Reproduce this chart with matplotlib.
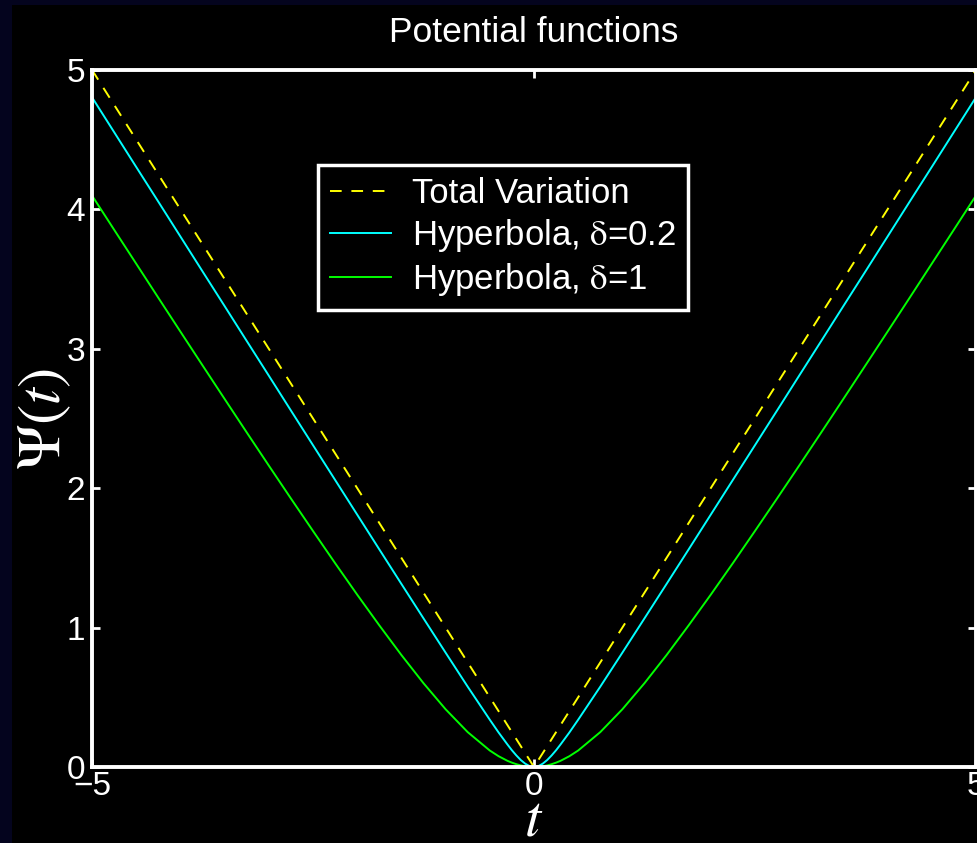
import matplotlib
matplotlib.use('Agg')
import matplotlib.pyplot as plt
from matplotlib.patches import Rectangle

# values (right half; the curves are symmetric about t=0)
t_pos = [0.05, 0.1, 0.15, 0.2, 0.25, 0.3, 0.4, 0.5, 0.75, 1, 1.25, 1.5, 1.75, 2,
         2.25, 2.5, 2.75, 3, 3.25, 3.5, 3.75, 4, 4.25, 4.5, 4.75, 5]
tv_pos = [0.05, 0.1, 0.15, 0.2, 0.25, 0.3, 0.4, 0.5, 0.75, 1, 1.25, 1.5, 1.75, 2,
          2.25, 2.5, 2.75, 3, 3.25, 3.5, 3.75, 4, 4.25, 4.5, 4.75, 5]
h02_pos = [0.006, 0.024, 0.050, 0.083, 0.120, 0.161, 0.247, 0.339, 0.576, 0.820,
           1.066, 1.313, 1.561, 1.810, 2.059, 2.308, 2.557, 2.807, 3.056, 3.306,
           3.555, 3.805, 4.055, 4.304, 4.554, 4.804]
h1_pos = [0.001, 0.005, 0.011, 0.020, 0.031, 0.044, 0.077, 0.118, 0.250, 0.414,
          0.601, 0.803, 1.016, 1.236, 1.462, 1.693, 1.926, 2.162, 2.400, 2.640,
          2.881, 3.123, 3.366, 3.610, 3.854, 4.099]

t = [-v for v in t_pos[::-1]] + [0] + t_pos
tv = tv_pos[::-1] + [0] + tv_pos
hyp02 = h02_pos[::-1] + [0] + h02_pos
hyp1 = h1_pos[::-1] + [0] + h1_pos

labels = ['Total Variation', r'Hyperbola, $\mathrm{\delta}$=0.2', r'Hyperbola, $\mathrm{\delta}$=1']
xticks = [-5, 0, 5]
yticks = [0, 1, 2, 3, 4, 5]

plt.rcParams['font.family'] = ['Liberation Sans', 'DejaVu Sans']
plt.rcParams['mathtext.fontset'] = 'stix'

fig = plt.figure(figsize=(9.78, 8.43), dpi=100, facecolor='#04041e')
# black plotting area, the navy only shows as a thin strip top and left
fig.patches.append(Rectangle((12 / 978, 0), 1, 1 - 5 / 843, transform=fig.transFigure,
                             facecolor='black', edgecolor='none', zorder=-10))

ax = fig.add_axes([0.094, 0.0902, 0.904, 0.827])
ax.set_facecolor('black')

ax.plot(t, tv, '--', color='#ffff00', lw=1.4, dashes=(6, 5), label=labels[0])
ax.plot(t, hyp02, '-', color='#00ffff', lw=1.4, label=labels[1])
ax.plot(t, hyp1, '-', color='#00ff00', lw=1.4, label=labels[2])

ax.set_xlim(-5, 5)
ax.set_ylim(0, 5)
ax.set_xticks(xticks)
ax.set_yticks(yticks)
ax.set_xticklabels([str(v).replace('-', '\u2212') for v in xticks])
for s in ax.spines.values():
    s.set_color('white')
    s.set_linewidth(2.8)
ax.tick_params(direction='in', top=True, right=True, length=6, width=2,
               colors='white', labelsize=24)
ax.tick_params(axis='x', pad=3)
ax.tick_params(axis='y', pad=5)

ax.set_title('Potential functions', color='white', fontsize=25.5, pad=20)
ax.set_xlabel(r'$t$', color='white', fontsize=42, labelpad=-6)
ax.set_ylabel(r'$\Psi(t)$', color='white', fontsize=44, labelpad=-5)

leg = ax.legend(loc='upper left', bbox_to_anchor=(0.2557, 0.8637), borderaxespad=0,
                fontsize=25, facecolor='black', edgecolor='white', framealpha=1,
                fancybox=False, handlelength=1.75, borderpad=0.35, labelspacing=0.2,
                handletextpad=0.6)
leg.get_frame().set_linewidth(2.5)
for txt in leg.get_texts():
    txt.set_color('white')

fig.savefig('out.png', dpi=100, facecolor=fig.get_facecolor())
